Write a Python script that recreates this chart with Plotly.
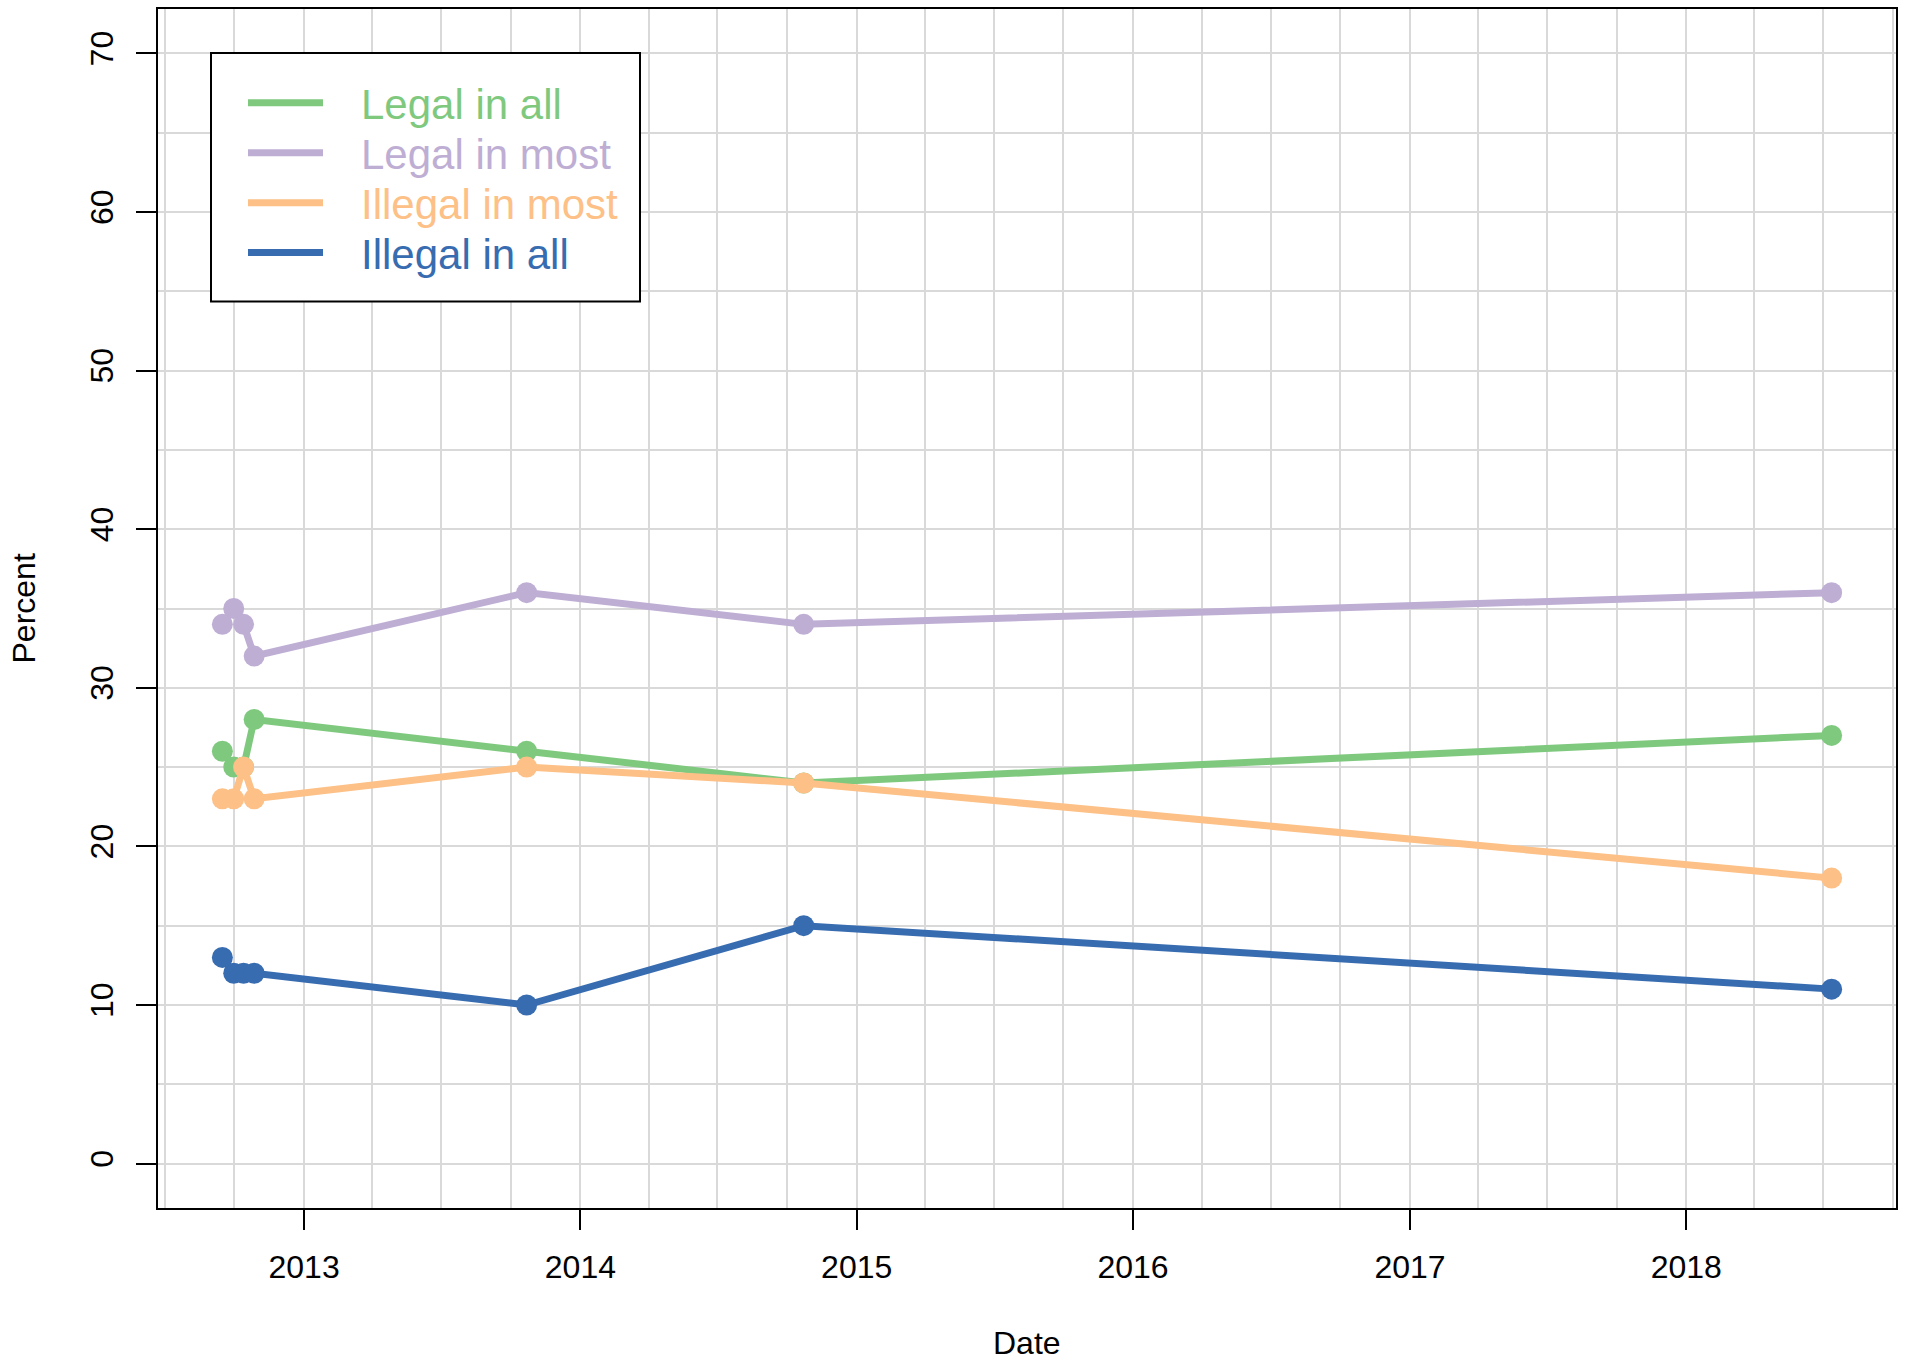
import plotly.graph_objects as go
import pandas as pd

# ---- data ----
dates = ["2012-09-15", "2012-09-30", "2012-10-13", "2012-10-27",
         "2013-10-22", "2014-10-23", "2018-07-12"]
legal_all = [26, 25, 25, 28, 26, 24, 27]
legal_most = [34, 35, 34, 32, 36, 34, 36]
illegal_most = [23, 23, 25, 23, 25, 24, 18]
illegal_all = [13, 12, 12, 12, 10, 15, 11]

series_names = ["Legal in all", "Legal in most", "Illegal in most", "Illegal in all"]
series_values = [legal_all, legal_most, illegal_most, illegal_all]
series_colors = ["#7FC97F", "#BEAED4", "#FDC086", "#386CB0"]

y_ticks = [0, 10, 20, 30, 40, 50, 60, 70]
x_tick_years = ["2013-01-01", "2014-01-01", "2015-01-01", "2016-01-01",
                "2017-01-01", "2018-01-01"]
x_tick_labels = ["2013", "2014", "2015", "2016", "2017", "2018"]

FONT = "Liberation Sans, Arial, Helvetica, sans-serif"
W, H = 1907, 1360
ML, MR, MT, MB = 158, 11, 7, 152

fig = go.Figure()
for name, vals, col in zip(series_names, series_values, series_colors):
    fig.add_trace(go.Scatter(
        x=pd.to_datetime(dates), y=vals, name=name, mode="lines+markers",
        line=dict(color=col, width=7),
        marker=dict(color=col, size=21),
        showlegend=False,
    ))

# R-style 4% padding of the x range
dts = pd.to_datetime(dates)
span = dts.max() - dts.min()
x0 = dts.min() - span * 0.04
x1 = dts.max() + span * 0.04
ymin, ymax = min(y_ticks), max(y_ticks)
pad = (ymax - ymin) * 0.04

grid_col = "#D9D9D9"
fig.update_xaxes(
    range=[x0, x1], type="date",
    tickvals=pd.to_datetime(x_tick_years), ticktext=x_tick_labels,
    ticks="outside", ticklen=20, tickwidth=1.5, tickcolor="black",
    showline=True, mirror=True, linecolor="black", linewidth=2,
    showgrid=True, gridcolor=grid_col, gridwidth=1.5,
    minor=dict(dtick="M3", tick0="2013-01-01", showgrid=True,
               gridcolor=grid_col, gridwidth=1.5, ticks=""),
    tickfont=dict(family=FONT, size=32, color="black"),
    ticklabelstandoff=10, zeroline=False,
)
fig.update_yaxes(
    range=[ymin - pad, ymax + pad],
    tickvals=y_ticks,
    ticks="outside", ticklen=20, tickwidth=1.5, tickcolor="black",
    showline=True, mirror=True, linecolor="black", linewidth=2,
    showgrid=True, gridcolor=grid_col, gridwidth=1.5,
    minor=dict(dtick=5, showgrid=True, gridcolor=grid_col, gridwidth=1.5, ticks=""),
    tickfont=dict(family=FONT, size=32, color="black"),
    tickangle=-90, ticklabelstandoff=10, zeroline=False,
)

pw, ph = W - ML - MR, H - MT - MB
def px(x):
    return (x - ML) / pw
def py(y):
    return 1 - (y - MT) / ph

shapes = []
annotations = []
# legend box
shapes.append(dict(type="rect", xref="paper", yref="paper",
                   x0=px(211), x1=px(640), y0=py(300), y1=py(51),
                   line=dict(color="black", width=2), fillcolor="white", layer="above"))
for i, (name, col) in enumerate(zip(series_names, series_colors)):
    yy = 101 + 50 * i
    shapes.append(dict(type="line", xref="paper", yref="paper",
                       x0=px(248), x1=px(323), y0=py(yy), y1=py(yy),
                       line=dict(color=col, width=7), layer="above"))
    annotations.append(dict(xref="paper", yref="paper", x=px(359), y=py(yy + 2),
                            text=name, showarrow=False, xanchor="left", yanchor="middle",
                            font=dict(family=FONT, size=42, color=col)))

annotations.append(dict(xref="paper", yref="paper", x=0.5, y=py(1343),
                        text="Date", showarrow=False, xanchor="center", yanchor="middle",
                        font=dict(family=FONT, size=32, color="black")))
annotations.append(dict(xref="paper", yref="paper", x=px(23), y=0.5,
                        text="Percent", showarrow=False, xanchor="center", yanchor="middle",
                        textangle=-90,
                        font=dict(family=FONT, size=32, color="black")))

fig.update_layout(
    width=W, height=H,
    margin=dict(l=ML, r=MR, t=MT, b=MB, pad=0),
    paper_bgcolor="white", plot_bgcolor="white",
    shapes=shapes, annotations=annotations,
    showlegend=False,
)

fig.write_html("out.html", config={"displayModeBar": False},
               post_script="document.body.style.margin='0';document.body.style.overflow='hidden';")
